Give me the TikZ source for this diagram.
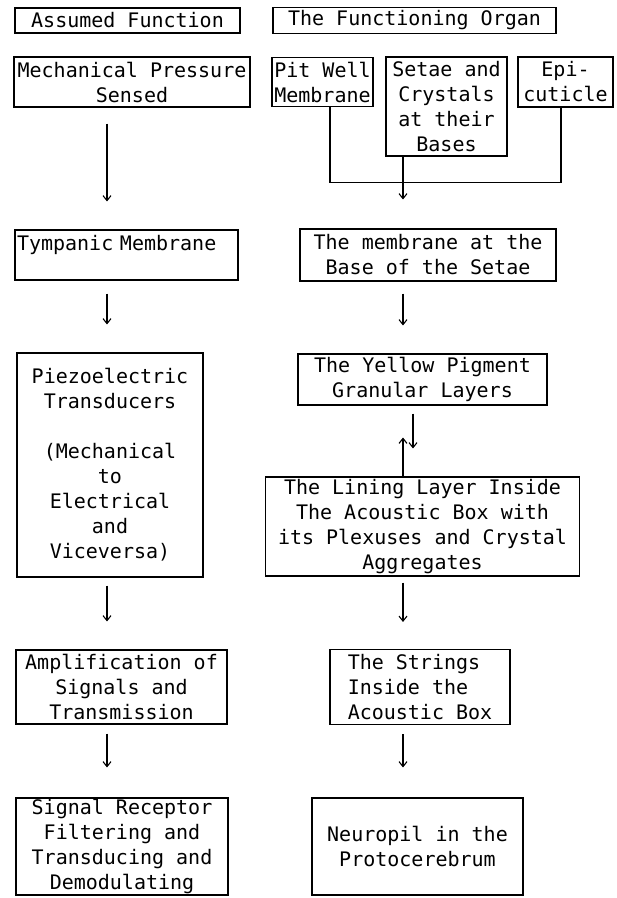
\documentclass[tikz,border=0pt]{standalone}
\usepackage{fontspec}
\setmonofont{DejaVu Sans Mono}
\usetikzlibrary{arrows.meta}

\begin{document}
\begin{tikzpicture}[
    base/.style = {rectangle, draw=black, inner sep=1pt,
text centered, font=\ttfamily\fontsize{20}{25}\selectfont},
node distance=170pt, line width=1.1pt,
>={Straight Barb[length=5pt,width=8pt]}, align=center
]
  \useasboundingbox (0,0) rectangle (617pt,-898pt);
  \coordinate (colL) at (107pt,0);
  \coordinate (colR) at (403pt,0);
  \coordinate (colD) at (413pt,0);

  \node (hdrL)    [base, minimum width=225pt, minimum height=25pt] at (127.5pt,-20.5pt) {Assumed Function};
  \node (hdrR)    [base, minimum width=283pt, minimum height=26pt, right of=hdrL, xshift=117pt] {The Functioning Organ};
  \node (mech)    [base, minimum width=236pt, minimum height=50pt, below of=hdrL, xshift=4.5pt, yshift=108.5pt] {Mechanical Pressure\\Sensed};
  \node (pit)     [base, minimum width=101pt, minimum height=49pt, right of=mech, xshift=20.5pt] {Pit Well\\Membrane};
  \node (setae)   [base, minimum width=121pt, minimum height=99pt, right of=pit, xshift=-46pt, yshift=-24.5pt] {Setae and\\Crystals\\at their\\Bases};
  \node (epi)     [base, minimum width=95pt, minimum height=50pt, right of=pit, xshift=73pt] {Epi-\\cuticle};
  \node (tymp)    [base, minimum width=223pt, minimum height=50pt, text width=219pt, align=left, below of=mech, xshift=-5.5pt, yshift=-3pt] {Tympanic Membrane\\\mbox{}};
  \node (memb)    [base, minimum width=256pt, minimum height=52pt, right of=tymp, xshift=131.5pt] {The membrane at the\\Base of the Setae};
  \node (piezo)   [base, minimum width=186pt, minimum height=224pt, below of=tymp, xshift=-16.5pt, yshift=-40pt] {Piezoelectric\\Transducers\\[25pt](Mechanical\\to\\Electrical\\and\\Viceversa)};
  \node (yellow)  [base, minimum width=249pt, minimum height=51pt, below of=memb, xshift=-5.5pt, yshift=45.5pt] {The Yellow Pigment\\Granular Layers};
  \node (lining)  [base, minimum width=314pt, minimum height=99pt, below of=yellow, yshift=23pt] {The Lining Layer Inside\\The Acoustic Box with\\its Plexuses and Crystal\\Aggregates};
  \node (ampl)    [base, minimum width=211pt, minimum height=74pt, below of=piezo, xshift=11.5pt, yshift=-52pt] {Amplification of\\Signals and\\Transmission};
  \node (strings) [base, minimum width=180pt, minimum height=75pt, align=left, right of=ampl, xshift=128.5pt] {The Strings\\Inside the\\Acoustic Box};
  \node (signal)  [base, minimum width=212pt, minimum height=97pt, below of=ampl, xshift=0.5pt, yshift=10.5pt] {Signal Receptor\\Filtering and\\Transducing and\\Demodulating};
  \node (neuro)   [base, minimum width=211pt, minimum height=97pt, right of=signal, xshift=125.5pt] {Neuropil in the\\Protocerebrum};

  \draw[->] ([yshift=-16pt]mech.south -| colL) -- ([yshift=28pt]tymp.north -| colL);
  \draw[->] ([yshift=-13pt]tymp.south -| colL) -- ([yshift=28pt]piezo.north -| colL);
  \draw[->] ([yshift=-8pt]piezo.south -| colL) -- ([yshift=28pt]ampl.north -| colL);
  \draw[->] ([yshift=-9pt]ampl.south -| colL) -- ([yshift=30pt]signal.north -| colL);

  \draw     ([xshift=7.5pt]pit.south) |- ([yshift=-26pt]setae.south -| colR) -| ([xshift=-4.5pt]epi.south);
  \draw[->] (setae.south -| colR) -- ([yshift=29pt]memb.north -| colR);
  \draw[->] ([yshift=-12pt]memb.south -| colR) -- ([yshift=28pt]yellow.north -| colR);
  \draw[->] ([yshift=-8pt]yellow.south -| colD) -- ([yshift=28pt]lining.north -| colD);
  \draw[->] (lining.north -| colR) -- ([yshift=-32pt]yellow.south -| colR);
  \draw[->] ([yshift=-6pt]lining.south -| colR) -- ([yshift=27pt]strings.north -| colR);
  \draw[->] ([yshift=-9pt]strings.south -| colR) -- ([yshift=30pt]neuro.north -| colR);

\end{tikzpicture}
\end{document}
